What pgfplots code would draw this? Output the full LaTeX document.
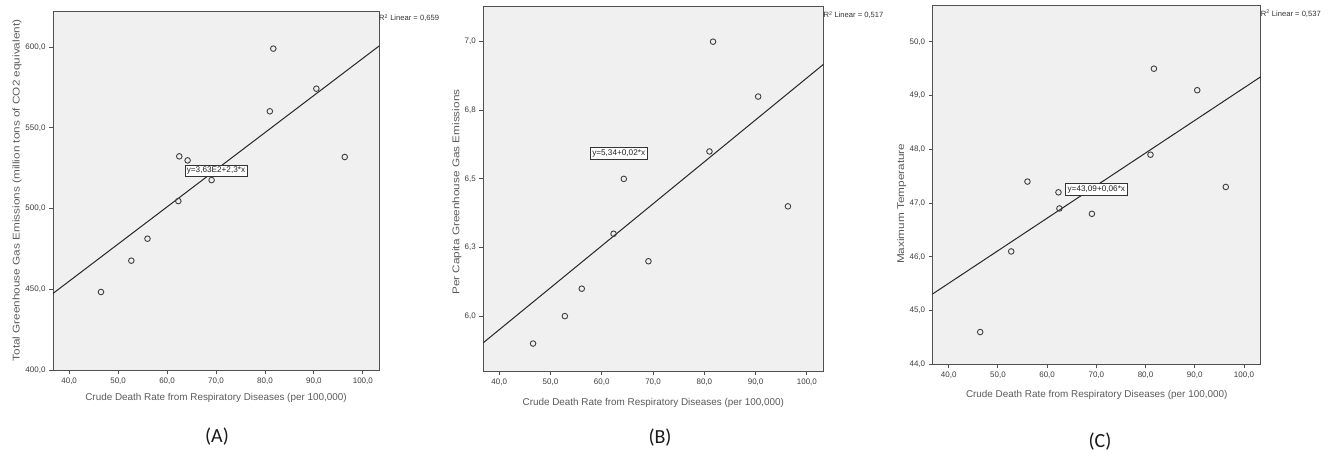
\documentclass[border=0pt]{standalone}
\usepackage{fontspec}
\setmainfont{Liberation Sans}
\newfontfamily\carlito{Carlito}
\usepackage{graphicx}
\usepackage{pgfplots}
\pgfplotsset{compat=1.18}
\usepackage{xcolor}

\definecolor{bgcol}{HTML}{F0F0F0}
\definecolor{framecol}{HTML}{505050}
\definecolor{labcol}{HTML}{5A5A5A}
\definecolor{tickcol}{HTML}{3C3C3C}

\pgfplotsset{
  spss/.style={
    scale only axis,
    axis background/.style={fill=bgcol},
    axis line style={draw=framecol, line width=0.9pt},
    tick pos=left,
    tick align=outside,
    major tick length=4pt,
    every tick/.style={draw=framecol, line width=0.9pt},
    tick label style={font=\fontsize{8}{9}\selectfont, text=tickcol},
    /pgf/number format/.cd, fixed, fixed zerofill, precision=1, use comma,
      1000 sep={}, assume math mode=true,
    /pgfplots/.cd,
    xtick={40,50,...,100},
    xmin=36.7, xmax=103.3,
    xlabel={Crude Death Rate from Respiratory Diseases (per 100,000)},
    xlabel style={font=\fontsize{9.9}{11}\selectfont, text=labcol, anchor=center},
    ylabel style={font=\fontsize{9.8}{11}\selectfont, text=labcol, anchor=center},
    clip=false,
  },
  pts/.style={only marks, mark=o, mark size=2.8pt,
    mark options={draw=black!75, line width=0.9pt}},
  fit/.style={no markers, draw=black!85, line width=1pt},
}
\tikzset{
  eqbox/.style={draw=black!80, fill=white, line width=0.6pt,
    font=\fontsize{8.2}{9}\selectfont, inner sep=2pt, text=black!85},
  rsq/.style={anchor=west, font=\fontsize{7.6}{8}\selectfont, text=black!80, inner sep=0pt},
  plab/.style={font=\carlito\fontsize{20}{22}\selectfont, text=black!90},
}

\begin{document}
\begin{tikzpicture}
\path (0,0) rectangle (1330pt,456pt);

% (A) total emissions
\begin{axis}[spss, at={(53pt,86pt)}, anchor=south west,
  width=326pt, height=359pt,
  ymin=400, ymax=622.3, ytick={400,450,...,600},
  ylabel={\scalebox{1.2}[1]{Total Greenhouse Gas Emissions (million tons of CO2 equivalent)}},
  xlabel style={at={(axis description cs:0.5,-0.078)}},
  ylabel style={at={(axis description cs:-0.11,0.5)}},
]
\addplot[fit] coordinates {(36.7,447.41) (103.3,600.59)};
\addplot[pts] coordinates {
  (46.5,448.3) (52.7,467.7) (56.0,481.3) (62.3,504.6) (62.5,532.3)
  (64.2,529.8) (69.1,517.6) (81.0,560.2) (81.7,599.0) (90.5,574.2) (96.3,531.9)
};
\node[eqbox] at (axis cs:70.0,523.4) {y=3,63E2+2,3*x};
\node[rsq] at (axis description cs:1,0.98) {R\textsuperscript{2} Linear = 0,659};
\end{axis}

% (B) per capita emissions
\begin{axis}[spss, at={(483.3pt,85pt)}, anchor=south west,
  width=340pt, height=365pt,
  xmin=36.9, xmax=103.2,
  ymin=5.80, ymax=7.13, ytick={6.0,6.25,6.5,6.75,7.0},
  yticklabels={{6,0},{6,3},{6,5},{6,8},{7,0}},
  ylabel={\scalebox{1.2}[1]{Per Capita Greenhouse Gas Emissions}},
  xlabel style={at={(axis description cs:0.5,-0.088)}},
  ylabel style={at={(axis description cs:-0.078,0.49)}},
]
\addplot[fit] coordinates {(36.9,5.903) (103.2,6.917)};
\addplot[pts] coordinates {
  (46.6,5.90) (52.8,6.00) (56.1,6.10) (62.3,6.30) (64.3,6.50)
  (69.1,6.20) (81.0,6.60) (81.7,7.00) (90.5,6.80) (96.3,6.40)
};
\node[eqbox] at (axis cs:63.3,6.593) {y=5,34+0,02*x};
\node[rsq] at (axis description cs:1,0.975) {R\textsuperscript{2} Linear = 0,517};
\end{axis}

% (C) maximum temperature
\begin{axis}[spss, at={(932.7pt,91.7pt)}, anchor=south west,
  width=328pt, height=359pt,
  xmin=36.75, xmax=103.4,
  ymin=44, ymax=50.68, ytick={44,45,...,50},
  ylabel={\scalebox{1.2}[1]{Maximum Temperature}},
  xlabel style={at={(axis description cs:0.5,-0.084)}},
  ylabel style={at={(axis description cs:-0.095,0.447)}},
]
\addplot[fit] coordinates {(36.75,45.31) (103.4,49.35)};
\addplot[pts] coordinates {
  (46.4,44.6) (52.7,46.1) (56.0,47.4) (62.3,47.2) (62.5,46.9)
  (69.1,46.8) (81.0,47.9) (81.7,49.5) (90.5,49.1) (96.3,47.3)
};
\node[eqbox] at (axis cs:70.0,47.26) {y=43,09+0,06*x};
\node[rsq] at (axis description cs:1,0.976) {R\textsuperscript{2} Linear = 0,537};
\end{axis}

\node[plab] at (217pt,19pt) {(A)};
\node[plab] at (660pt,18pt) {(B)};
\node[plab] at (1100pt,14pt) {(C)};
\end{tikzpicture}
\end{document}
